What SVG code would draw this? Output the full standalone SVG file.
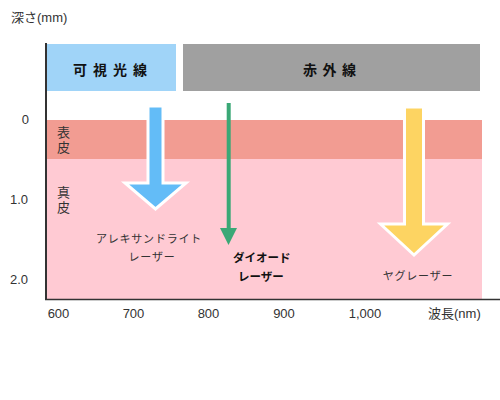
<svg xmlns="http://www.w3.org/2000/svg" width="500" height="400" viewBox="0 0 500 400">
<style>
text{font-family:"Noto Sans CJK JP","Noto Sans",sans-serif;fill:#333}
.ax{font-size:13px;font-family:"Liberation Sans","Noto Sans CJK JP",sans-serif}
.band{font-size:14px;font-weight:bold;fill:#111}
.lbl{font-size:11px;letter-spacing:0.8px}
.blbl{font-size:11.5px;font-weight:bold;fill:#111}
.skin{font-size:13px;writing-mode:vertical-rl;letter-spacing:2px}
</style>
<rect width="500" height="400" fill="#fff"/>
<g id="skin-layers">
<rect x="46" y="120" width="436" height="39" fill="#f29c92"/>
<rect x="46" y="159" width="436" height="141" fill="#ffcad3"/>
</g>
<g id="visible-band">
<rect x="46" y="44" width="130" height="47" fill="#a0d4f8"/>
<text class="band" x="73" y="75" letter-spacing="6">可視光線</text>
</g>
<g id="infrared-band">
<rect x="183" y="44" width="297" height="47" fill="#a0a0a0"/>
<text class="band" x="303" y="75" letter-spacing="5.5">赤外線</text>
</g>
<g id="axes">
<line x1="46" y1="43" x2="46" y2="300" stroke="#333" stroke-width="2"/>
<line x1="45" y1="299.5" x2="500" y2="299.5" stroke="#333" stroke-width="1.5"/>
<text class="ax" x="11" y="22" font-family="Noto Sans CJK JP,sans-serif">深さ(mm)</text>
<text class="ax" x="29" y="124" text-anchor="end">0</text>
<text class="ax" x="28" y="204" text-anchor="end">1.0</text>
<text class="ax" x="28" y="284" text-anchor="end">2.0</text>
<text class="ax" x="58.5" y="318" text-anchor="middle">600</text>
<text class="ax" x="133.5" y="318" text-anchor="middle">700</text>
<text class="ax" x="208.5" y="318" text-anchor="middle">800</text>
<text class="ax" x="284" y="318" text-anchor="middle">900</text>
<text class="ax" x="365" y="318" text-anchor="middle">1,000</text>
<text class="ax" x="428" y="318">波長(nm)</text>
</g>
<g id="skin-labels">
<text class="skin" x="63.5" y="126">表皮</text>
<text class="skin" x="63.5" y="186">真皮</text>
</g>
<g id="connectors">
<polygon id="alex-arrow" points="148,106 163,106 163,183 186,183 155.5,209 125,183 148,183" fill="#63bcf7" stroke="#fff" stroke-width="3" stroke-linejoin="miter"/>
<line x1="228.7" y1="103" x2="228.7" y2="230" stroke="#3aa876" stroke-width="4"/>
<polygon points="220,228 237,228 228.5,245" fill="#3aa876"/>
<polygon id="yag-arrow" points="404.5,107 423.5,107 423.5,224 447.5,224 414,255 380.5,224 404.5,224" fill="#fdd462" stroke="#fff" stroke-width="3" stroke-linejoin="miter"/>
</g>
<g id="alex-label">
<text class="lbl" x="149" y="243" text-anchor="middle">アレキサンドライト</text>
<text class="lbl" x="152" y="261" text-anchor="middle">レーザー</text>
</g>
<g id="diode-label">
<text class="blbl" x="233" y="262">ダイオード</text>
<text class="blbl" x="238" y="281">レーザー</text>
</g>
<g id="yag-label">
<text class="lbl" x="418" y="280" text-anchor="middle">ヤグレーザー</text>
</g>
</svg>
